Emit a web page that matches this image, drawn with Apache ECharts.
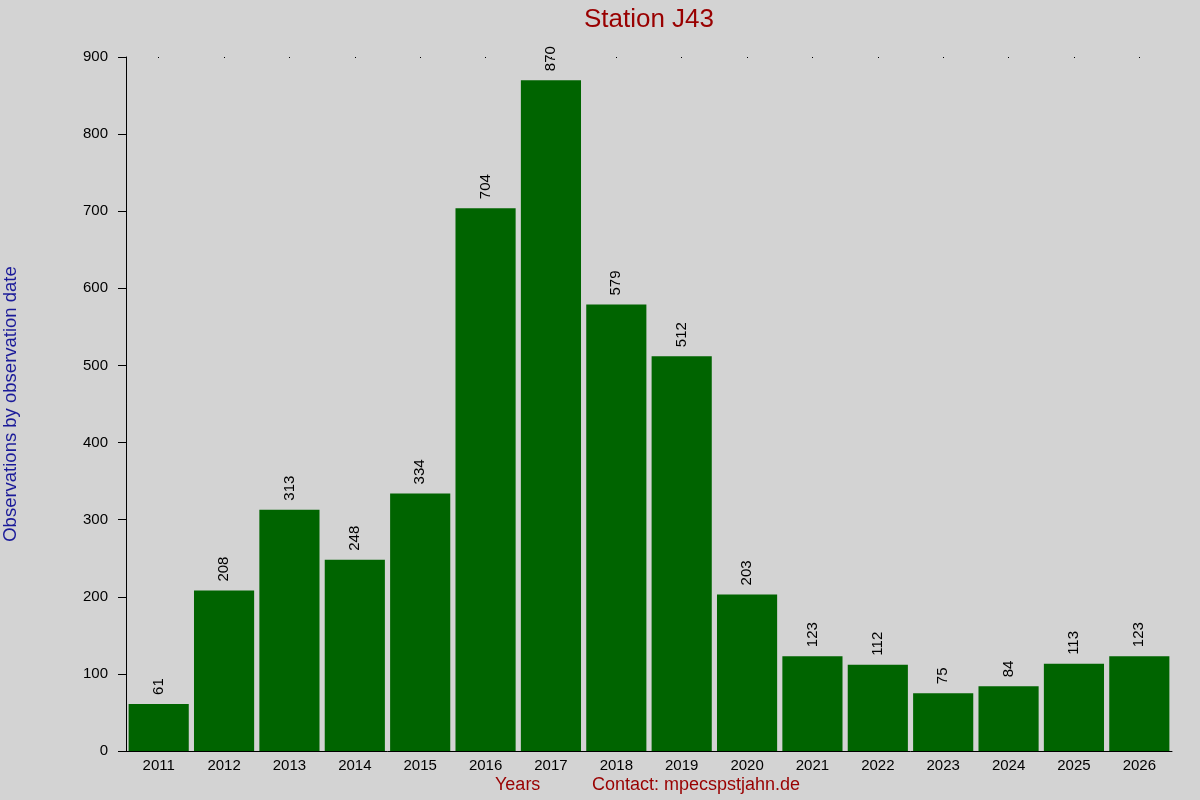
<!DOCTYPE html>
<html>
<head>
<meta charset="utf-8">
<script src="https://cdn.jsdelivr.net/npm/echarts@6/dist/echarts.min.js"></script>
<style>
html,body{margin:0;padding:0;background:#d3d3d3;}
#chart{width:1200px;height:800px;}
</style>
</head>
<body>
<div id="chart"></div>
<script>
const years = ['2011','2012','2013','2014','2015','2016','2017','2018','2019','2020','2021','2022','2023','2024','2025','2026'];
const observations = [61,208,313,248,334,704,870,579,512,203,123,112,75,84,113,123];
const yTicks = {min: 0, max: 900, interval: 100};

const chart = echarts.init(document.getElementById('chart'));
const font = 'Liberation Sans, Arial, sans-serif';
chart.setOption({
  backgroundColor: '#d3d3d3',
  animation: false,
  title: {
    text: 'Station J43',
    left: 644, top: 2, textAlign: 'center',
    textStyle: {color: '#990000', fontSize: 26, fontWeight: 'normal', fontFamily: font}
  },
  graphic: [
    {type: 'text', left: 495, top: 776, style: {text: 'Years', fill: '#990000', font: '18px ' + font}},
    {type: 'text', left: 592, top: 776, style: {text: 'Contact: mpecspstjahn.de', fill: '#990000', font: '18px ' + font}}
  ],
  grid: {left: 126, right: 28, top: 57, bottom: 49, containLabel: false, outerBoundsMode: 'none'},
  xAxis: [{
    type: 'category',
    data: years,
    axisLine: {show: true, lineStyle: {color: '#000', width: 1}},
    axisTick: {show: false},
    axisLabel: {color: '#000', fontSize: 15, fontFamily: font, margin: 7}
  }, {
    type: 'category',
    data: years,
    position: 'top',
    axisLine: {show: false},
    axisTick: {show: true, inside: true, length: 1, alignWithLabel: true, lineStyle: {color: '#000', width: 1}},
    axisLabel: {show: false}
  }],
  yAxis: {
    type: 'value',
    min: yTicks.min, max: yTicks.max, interval: yTicks.interval,
    name: 'Observations by observation date',
    nameLocation: 'middle',
    nameGap: 106,
    nameTextStyle: {color: '#1a1a99', fontSize: 18.5, fontFamily: font},
    axisLine: {show: true, lineStyle: {color: '#000', width: 1}},
    axisTick: {show: true, length: 8, lineStyle: {color: '#000'}},
    axisLabel: {color: '#000', fontSize: 15, fontFamily: font, margin: 18},
    splitLine: {show: false}
  },
  series: [{
    type: 'bar',
    data: observations,
    barCategoryGap: '8%',
    itemStyle: {color: '#006400'},
    label: {
      show: true, position: 'top', rotate: 90, align: 'left', verticalAlign: 'middle',
      distance: 9, color: '#000', fontSize: 15, fontFamily: font
    }
  }]
});
</script>
</body>
</html>
